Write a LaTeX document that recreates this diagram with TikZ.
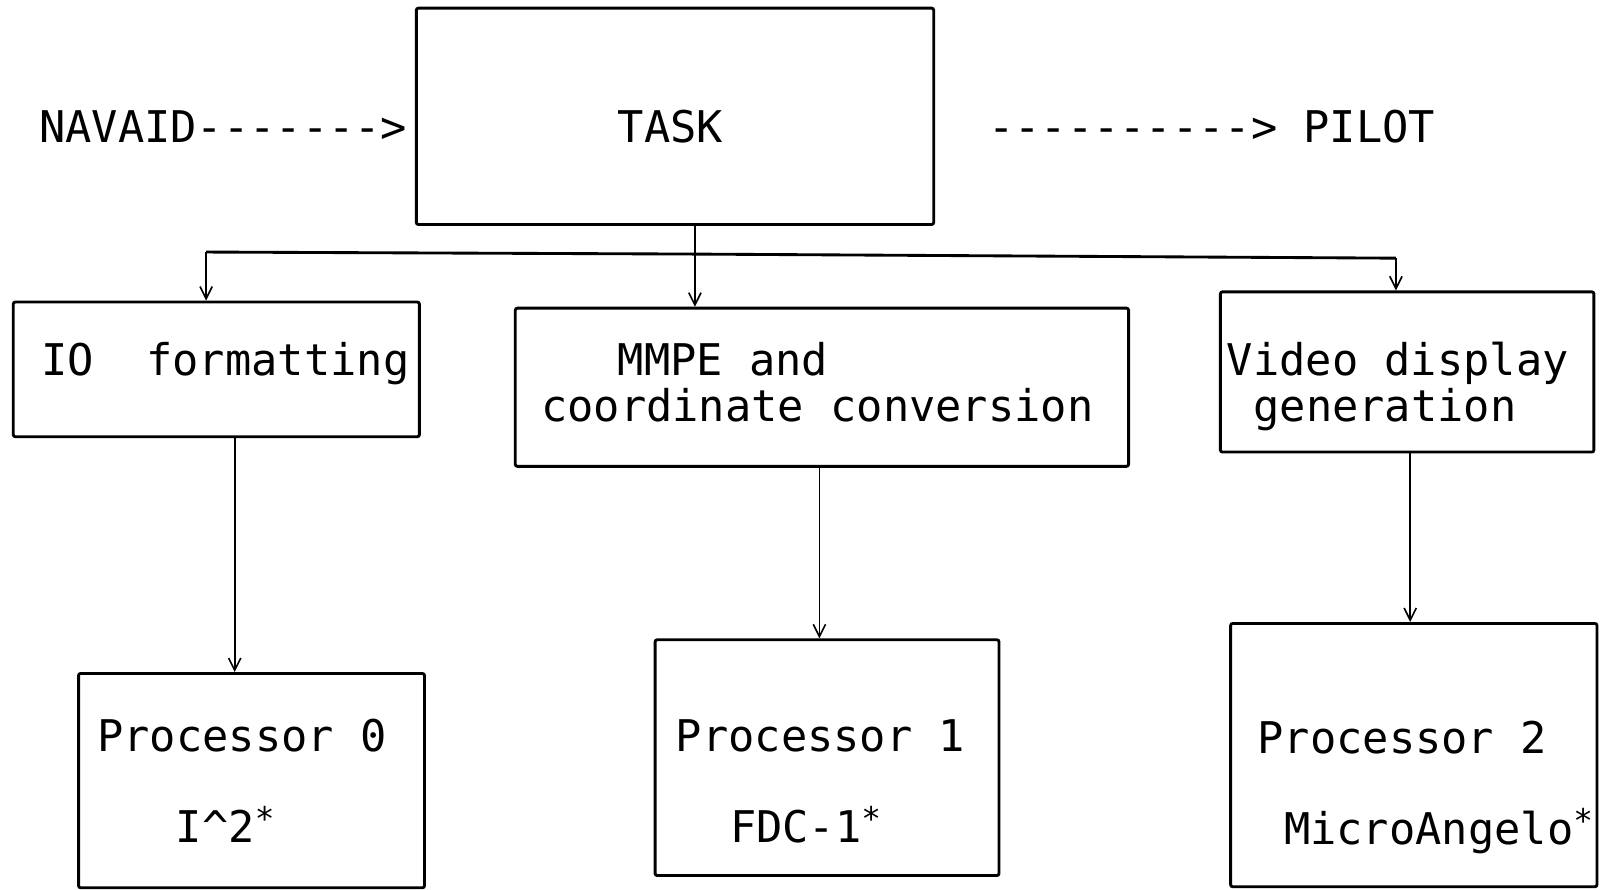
\documentclass[tikz,border=0pt]{standalone}
\usepackage{fontspec}
\newfontfamily\plotfont{DejaVu Sans Mono}
\usetikzlibrary{arrows.meta,fit}
\newcommand{\smallstar}{\makebox[12.9pt][l]{\raisebox{6pt}{\fontsize{16pt}{16pt}\selectfont*}}}
\begin{document}
\begin{tikzpicture}[x=0.5pt,y=-0.5pt,
  box/.style={draw,line width=1.4pt,inner sep=0pt,rounded corners=1pt},
  lbl/.style={anchor=base west,inner sep=0pt,font=\plotfont\fontsize{21.4pt}{24pt}\selectfont},
  conn/.style={line width=0.8pt},
  arr/.style={line width=0.8pt,-{Straight Barb[length=6pt,width=6pt,line width=0.8pt]}},
  bus/.style={line width=1.4pt}]
\useasboundingbox (0,0) rectangle (1568,872);
% boxes
\node[box,fit={(408,8) (915,220)}] (task) {};
\node[box,fit={(13,296) (411,428)}] (io) {};
\node[box,fit={(505,302) (1106,457)}] (mmpe) {};
\node[box,fit={(1196,286) (1562,443)}] (video) {};
\node[box,fit={(77,660) (416,870)}] (p0) {};
\node[box,fit={(642,627) (979,858)}] (p1) {};
\node[box,fit={(1206,611) (1565,869)}] (p2) {};
% texts
\node[lbl] (navaid) at (38,140) {NAVAID------->};
\node[lbl] (tasktxt) at (605,140) {TASK};
\node[lbl] (pilot) at (968,140) {----------> PILOT};
\node[lbl] (iotxt) at (40,368) {IO\ \ formatting};
\node[lbl] (mmpe1) at (605,368) {MMPE and};
\node[lbl] (mmpe2) at (530,413) {coordinate conversion};
\node[lbl] (vid1) at (1202,368) {Video display};
\node[lbl] (vid2) at (1228,413) {generation};
\node[lbl] (p0a) at (95,736) {Processor 0};
\node[lbl] (p0b) at (172,826) {I\^{}2\smallstar};
\node[lbl] (p1a) at (662,736) {Processor 1};
\node[lbl] (p1b) at (715,826) {FDC-1\smallstar};
\node[lbl] (p2a) at (1232,738) {Processor 2};
\node[lbl] (p2b) at (1258,828) {MicroAngelo\smallstar};
% connector positions
\coordinate (c1) at (202,0);
\coordinate (c2) at (681,0);
\coordinate (c3) at (1368,0);
\coordinate (d1) at (230,0);
\coordinate (d2) at (803,0);
\coordinate (d3) at (1382,0);
\coordinate (busL) at (202,247);
\coordinate (busM) at (681,249);
\coordinate (busR) at (1368,253);
% connectors
\draw[conn] (task.south -| c2) -- (busM);
\draw[bus] (busL) -- (busM) -- (busR);
\draw[arr] (busL) -- (io.north -| c1);
\draw[arr] (busM) -- (mmpe.north -| c2);
\draw[arr] (busR) -- (video.north -| c3);
\draw[arr] (io.south -| d1) -- (p0.north -| d1);
\draw[arr] (mmpe.south -| d2) -- (p1.north -| d2);
\draw[arr] (video.south -| d3) -- (p2.north -| d3);
\end{tikzpicture}
\end{document}
